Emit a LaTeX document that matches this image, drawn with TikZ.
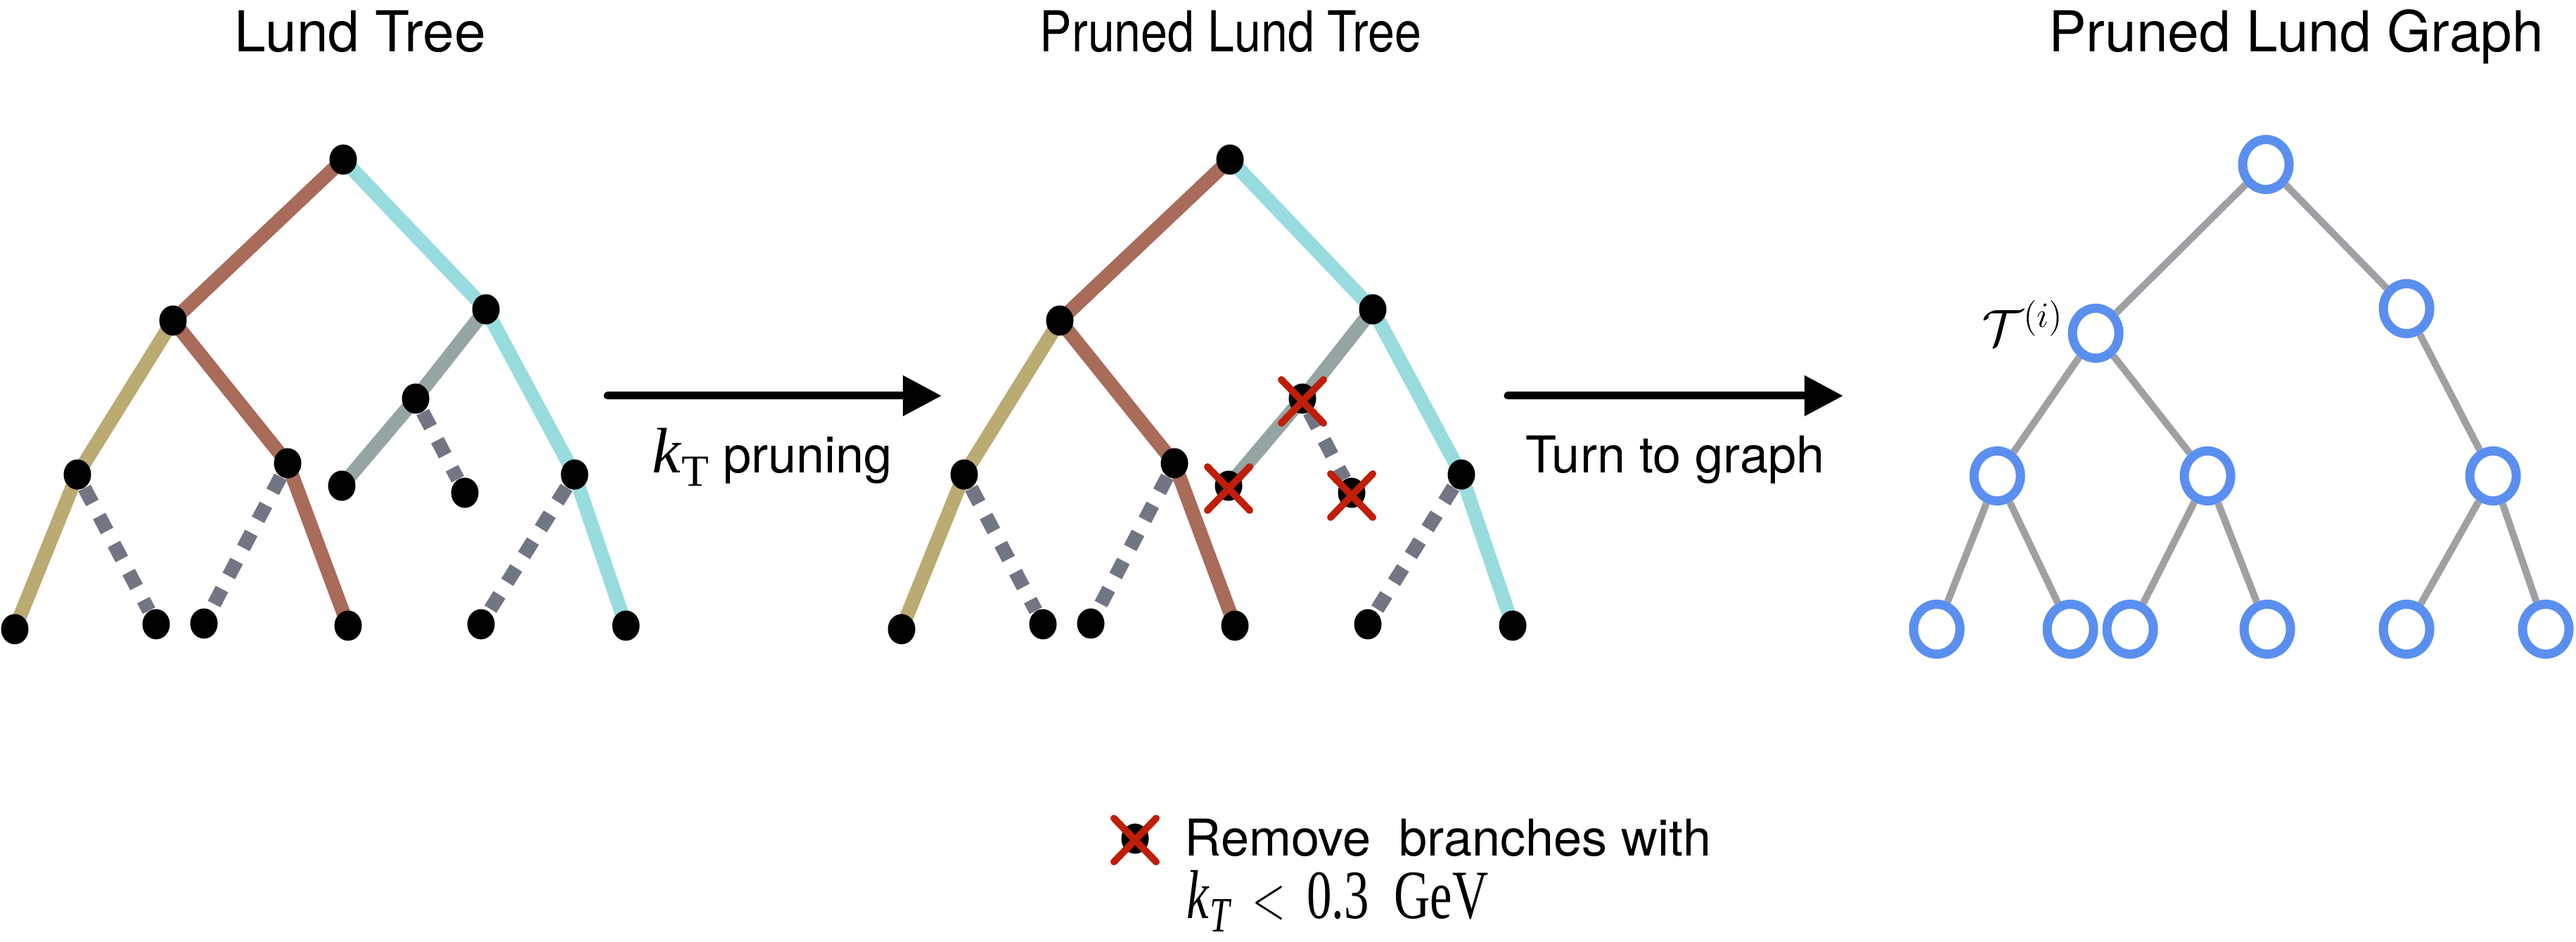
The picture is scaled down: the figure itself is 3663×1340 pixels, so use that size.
\documentclass[tikz,border=0pt]{standalone}
\usepackage{fontspec}
\usepackage{graphicx}
\usetikzlibrary{arrows.meta,shapes.geometric}
\newfontfamily\helv{TeX Gyre Heros}
\newfontfamily\tms{Liberation Serif}
\definecolor{brownC}{HTML}{A96B5A}
\definecolor{cyanC}{HTML}{98DCE0}
\definecolor{oliveC}{HTML}{BBAA72}
\definecolor{greyC}{HTML}{95A5A3}
\definecolor{dashC}{HTML}{727583}
\definecolor{gedgeC}{HTML}{A0A0A4}
\definecolor{ringC}{HTML}{5A8FF0}
\definecolor{redX}{HTML}{BF1E08}
\pgfdeclarelayer{bg}
\pgfsetlayers{bg,main}
\tikzset{
  dot/.style={ellipse, fill=black, inner sep=0pt, minimum width=0.39cm, minimum height=0.43cm},
  seg/.style={line width=0.2cm},
  dsh/.style={line width=0.2cm, draw=dashC, dash pattern=on 0.24cm off 0.21cm},
  ring/.style={ellipse, draw=ringC, line width=0.13cm, fill=white, inner sep=0pt, minimum width=0.66cm, minimum height=0.71cm},
  gedge/.style={draw=gedgeC, line width=0.1cm},
  xstroke/.style={draw=redX, line width=0.1cm, line cap=round},
  bigarrow/.style={line width=0.11cm, line cap=round, -{Triangle[length=0.55cm,width=0.55cm]}},
  title/.style={font=\helv\fontsize{22.8}{27}\selectfont, inner sep=0pt, anchor=base},
  lbl/.style={font=\helv\fontsize{20.5}{24}\selectfont, inner sep=0pt, anchor=base},
  redx/.pic={\draw[xstroke] (-30,-31) -- (30,31) (-30,31) -- (30,-31);}
}
\newcommand\LundTreeAt[2]{%
  \node[dot] (#1r) at ({#2+488},227) {};
  \node[dot] (#1p) at ({#2+246},456) {};
  \node[dot] (#1q) at ({#2+691},440) {};
  \node[dot] (#1s) at ({#2+110},675) {};
  \node[dot] (#1t) at ({#2+409},659) {};
  \node[dot] (#1m) at ({#2+591},567) {};
  \node[dot] (#1u) at ({#2+817},675) {};
  \node[dot] (#1g) at ({#2+486},691) {};
  \node[dot] (#1h) at ({#2+661},701) {};
  \node[dot] (#1l1) at ({#2+21},895) {};
  \node[dot] (#1l2) at ({#2+222},888) {};
  \node[dot] (#1l3) at ({#2+290},887) {};
  \node[dot] (#1l4) at ({#2+495},890) {};
  \node[dot] (#1l5) at ({#2+684},888) {};
  \node[dot] (#1l6) at ({#2+890},890) {};
  \begin{pgfonlayer}{bg}
    \draw[seg,brownC] (#1r.center) -- (#1p.center);
    \draw[seg,cyanC] (#1r.center) -- (#1q.center);
    \draw[seg,oliveC] (#1p.center) -- (#1s.center);
    \draw[seg,brownC] (#1p.center) -- (#1t.center);
    \draw[seg,greyC] (#1q.center) -- (#1m.center);
    \draw[seg,greyC] (#1m.center) -- (#1g.center);
    \draw[seg,cyanC] (#1q.center) -- (#1u.center);
    \draw[seg,oliveC] (#1s.center) -- (#1l1.center);
    \draw[seg,brownC] (#1t.center) -- (#1l4.center);
    \draw[seg,cyanC] (#1u.center) -- (#1l6.center);
    \draw[dsh] (#1s) -- (#1l2);
    \draw[dsh] (#1t) -- (#1l3);
    \draw[dsh] (#1m) -- (#1h);
    \draw[dsh] (#1u) -- (#1l5);
  \end{pgfonlayer}
}
\begin{document}
\begin{tikzpicture}[x=0.01cm,y=-0.01cm]
\useasboundingbox (0,0) rectangle (3663,1340);

% titles
\node[title] (t1) at (512,74) {Lund Tree};
\node[title] (t2) at (1750,74) {\scalebox{0.85}[1]{Pruned Lund Tree}};
\node[title] (t3) at (3265,74) {Pruned Lund Graph};

% trees
\LundTreeAt{a}{0}
\LundTreeAt{b}{1261}
\pic at ([yshift=-0.04cm]bm.center) {redx};
\pic at ([yshift=-0.04cm]bg.center) {redx};
\pic at ([yshift=-0.04cm]bh.center) {redx};

% arrows
\coordinate (a1s) at (864,563);
\coordinate (a1e) at (1339,563);
\coordinate (a2s) at (2144,563);
\coordinate (a2e) at (2621,563);
\draw[bigarrow] (a1s) -- (a1e);
\draw[bigarrow] (a2s) -- (a2e);
\node[lbl] (lab1) at (1098,673) {{\tms\fontsize{26}{28}\selectfont\textit{k}\raisebox{-0.2em}{\fontsize{18}{20}\selectfont T}}\ pruning};
\node[lbl] (lab2) at (2382,673) {Turn to graph};

% graph
\node[ring] (g0) at (3222,234) {};
\node[ring] (g1) at (2980,474) {};
\node[ring] (g2) at (3422,439) {};
\node[ring] (g3) at (2840,677) {};
\node[ring] (g4) at (3139,677) {};
\node[ring] (g5) at (3545,677) {};
\node[ring] (g6) at (2754,895) {};
\node[ring] (g7) at (2944,895) {};
\node[ring] (g8) at (3029,895) {};
\node[ring] (g9) at (3224,895) {};
\node[ring] (g10) at (3422,895) {};
\node[ring] (g11) at (3620,895) {};
\begin{pgfonlayer}{bg}
  \draw[gedge] (g0) -- (g1);
  \draw[gedge] (g0) -- (g2);
  \draw[gedge] (g1) -- (g3);
  \draw[gedge] (g1) -- (g4);
  \draw[gedge] (g2) -- (g5);
  \draw[gedge] (g3) -- (g6);
  \draw[gedge] (g3) -- (g7);
  \draw[gedge] (g4) -- (g8);
  \draw[gedge] (g4) -- (g9);
  \draw[gedge] (g5) -- (g10);
  \draw[gedge] (g5) -- (g11);
\end{pgfonlayer}
\node[font=\fontsize{21}{24}\selectfont, inner sep=0pt, anchor=base east] (tau) at (2935,492) {$\mathcal{T}^{(i)}$};

% legend
\node[dot] (legdot) at (1614,1193) {};
\pic at ([yshift=-0.02cm]legdot.center) {redx};
\node[lbl, anchor=base west] (leg1) at (1684,1217) {Remove\ \ branches with};
\node[font=\tms\fontsize{28}{32}\selectfont, inner sep=0pt, anchor=base west] (leg2) at (1687,1306) {\scalebox{0.72}[1]{\textit{k}\raisebox{-0.2em}{\fontsize{20}{22}\selectfont\textit{T}}\ \,$<$\ \,0.3\ \ GeV}};
\end{tikzpicture}
\end{document}
